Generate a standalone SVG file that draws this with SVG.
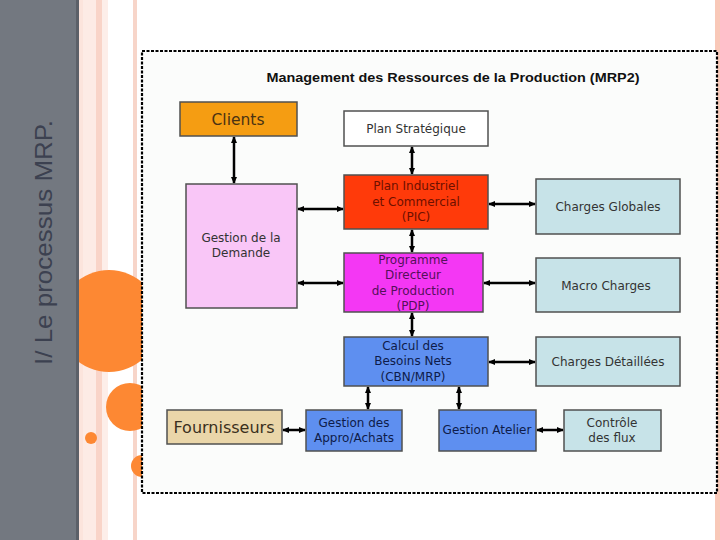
<svg xmlns="http://www.w3.org/2000/svg" width="720" height="540" viewBox="0 0 720 540">
<defs>
<style>
.box{stroke:#505050;stroke-width:1.5}
.t{font-family:"DejaVu Sans",Verdana,sans-serif;font-size:12px;text-anchor:middle}
.big{font-size:15.5px}
.c{stroke:#000;stroke-width:2.5;fill:none;marker-start:url(#ah);marker-end:url(#ah)}
</style>
<marker id="ah" markerUnits="userSpaceOnUse" markerWidth="7" markerHeight="7" refX="6" refY="3.5" orient="auto-start-reverse">
<path d="M0,0.5 L7,3.5 L0,6.5 z" fill="#000"/>
</marker>
</defs>
<rect width="720" height="540" fill="#ffffff"/>
<!-- decorative stripes -->
<rect x="79" y="0" width="4" height="540" fill="#fce4dc"/>
<rect x="83" y="0" width="13" height="540" fill="#fdebe5"/>
<rect x="96" y="0" width="6" height="540" fill="#f9d4c8"/>
<rect x="102" y="0" width="6" height="540" fill="#fdeee9"/>
<rect x="133" y="0" width="4" height="540" fill="#f7d5c9"/>
<rect x="715" y="0" width="5" height="540" fill="#f9c8b8"/>
<!-- decorative circles -->
<circle cx="109" cy="321" r="51" fill="#fd8833"/>
<circle cx="130" cy="407" r="24" fill="#fd8833"/>
<circle cx="91" cy="438" r="6" fill="#fd8833"/>
<circle cx="142" cy="466" r="11" fill="#fd8833"/>
<!-- sidebar -->
<rect x="0" y="0" width="79" height="540" fill="#737880"/>
<rect x="76" y="0" width="3" height="540" fill="#5c6068"/>
<text transform="translate(52,365) rotate(-90)" font-family="'Liberation Sans',Arial,sans-serif" font-size="24" fill="#3c4150" textLength="245" lengthAdjust="spacingAndGlyphs">I/ Le processus MRP.</text>
<!-- picture frame -->
<rect x="142" y="51" width="575" height="442" fill="#fbfcfb" stroke="#000" stroke-width="2.2" stroke-dasharray="3 1.5"/>
<text x="453" y="82" font-family="'Liberation Sans',Arial,sans-serif" font-size="12.5" font-weight="bold" text-anchor="middle" fill="#111" textLength="373" lengthAdjust="spacingAndGlyphs">Management des Ressources de la Production (MRP2)</text>
<!-- connectors -->
<g id="connectors">
<line class="c" x1="234" y1="137" x2="234" y2="183"/>
<line class="c" x1="412" y1="147" x2="412" y2="174"/>
<line class="c" x1="298" y1="209" x2="343" y2="209"/>
<line class="c" x1="489" y1="204" x2="535" y2="204"/>
<line class="c" x1="412" y1="230" x2="412" y2="252"/>
<line class="c" x1="298" y1="283" x2="343" y2="283"/>
<line class="c" x1="484" y1="283" x2="535" y2="283"/>
<line class="c" x1="412" y1="313" x2="412" y2="336"/>
<line class="c" x1="489" y1="362" x2="535" y2="362"/>
<line class="c" x1="368" y1="387" x2="368" y2="409"/>
<line class="c" x1="459" y1="387" x2="459" y2="409"/>
<line class="c" x1="283" y1="430" x2="305" y2="430"/>
<line class="c" x1="537" y1="430" x2="563" y2="430"/>
</g>
<!-- nodes -->
<g id="clients">
<rect class="box" x="180" y="102" width="117" height="34" fill="#f59d12"/>
<text class="t big" x="238" y="125" fill="#4a3212">Clients</text>
</g>
<g id="plan-strategique">
<rect class="box" x="344" y="111" width="144" height="35" fill="#ffffff"/>
<text class="t" x="416" y="133" fill="#333">Plan Stratégique</text>
</g>
<g id="pic">
<rect class="box" x="344" y="175" width="144" height="54" fill="#ff3a0a"/>
<text class="t" x="416" y="190" fill="#6e1000">Plan Industriel</text>
<text class="t" x="416" y="206" fill="#6e1000">et Commercial</text>
<text class="t" x="416" y="221" fill="#6e1000">(PIC)</text>
</g>
<g id="gestion-demande">
<rect class="box" x="186" y="184" width="111" height="124" fill="#f9c6f7"/>
<text class="t" x="241" y="242" fill="#333">Gestion de la</text>
<text class="t" x="241" y="257" fill="#333">Demande</text>
</g>
<g id="charges-globales">
<rect class="box" x="536" y="179" width="144" height="55" fill="#c7e3e8"/>
<text class="t" x="608" y="211" fill="#333">Charges Globales</text>
</g>
<g id="pdp">
<rect class="box" x="344" y="253" width="139" height="59" fill="#f437f4"/>
<text class="t" x="413" y="264" fill="#55105a">Programme</text>
<text class="t" x="413" y="279" fill="#55105a">Directeur</text>
<text class="t" x="413" y="295" fill="#55105a">de Production</text>
<text class="t" x="413" y="310" fill="#55105a">(PDP)</text>
</g>
<g id="macro-charges">
<rect class="box" x="536" y="258" width="144" height="54" fill="#c7e3e8"/>
<text class="t" x="606" y="290" fill="#333">Macro Charges</text>
</g>
<g id="cbn">
<rect class="box" x="344" y="337" width="144" height="49" fill="#5e8ff0"/>
<text class="t" x="413" y="350" fill="#0e1c4a">Calcul des</text>
<text class="t" x="413" y="365" fill="#0e1c4a">Besoins Nets</text>
<text class="t" x="413" y="381" fill="#0e1c4a">(CBN/MRP)</text>
</g>
<g id="charges-detaillees">
<rect class="box" x="536" y="337" width="144" height="49" fill="#c7e3e8"/>
<text class="t" x="608" y="366" fill="#333">Charges Détaillées</text>
</g>
<g id="fournisseurs">
<rect class="box" x="167" y="410" width="115" height="34" fill="#ead6a9"/>
<text class="t big" x="224" y="433" style="font-size:16px" fill="#3a3020">Fournisseurs</text>
</g>
<g id="appro-achats">
<rect class="box" x="306" y="410" width="96" height="41" fill="#5e8ff0"/>
<text class="t" x="354" y="427" fill="#0e1c4a">Gestion des</text>
<text class="t" x="354" y="442" fill="#0e1c4a">Appro/Achats</text>
</g>
<g id="gestion-atelier">
<rect class="box" x="439" y="410" width="97" height="41" fill="#5e8ff0"/>
<text class="t" x="487" y="434" fill="#0e1c4a">Gestion Atelier</text>
</g>
<g id="controle-flux">
<rect class="box" x="564" y="410" width="97" height="41" fill="#c7e3e8"/>
<text class="t" x="612" y="427" fill="#333">Contrôle</text>
<text class="t" x="612" y="442" fill="#333">des flux</text>
</g>
</svg>
